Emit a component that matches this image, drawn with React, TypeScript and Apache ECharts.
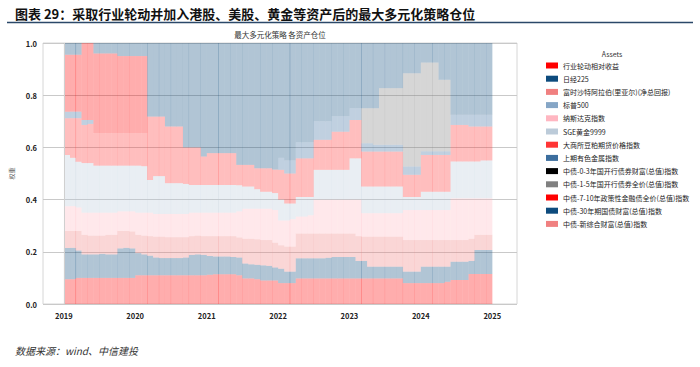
import React, { useEffect, useRef } from "react";
import * as echarts from "echarts";

// ---- categories: monthly positions, Jan 2019 .. Dec 2024 ----
const startYear = 2019;
const monthCount = 72;
const months: string[] = [];
for (let i = 0; i < monthCount; i++) {
  const y = startYear + Math.floor(i / 12);
  const m = (i % 12) + 1;
  months.push(`${y}-${m < 10 ? "0" + m : m}`);
}

const firstYear = 2019;
const lastYear = 2025;

// ---- weights (bottom to top of stack) ----
const industryRotation = [
  0.095, 0.095, 0.1, 0.1, 0.1, 0.1, 0.1, 0.1, 0.1, 0.1, 0.1, 0.1,
  0.11, 0.11, 0.11, 0.11, 0.11, 0.11, 0.11, 0.11, 0.11, 0.11, 0.11, 0.11,
  0.112, 0.114, 0.114, 0.114, 0.114, 0.11, 0.098, 0.098, 0.095, 0.09, 0.09, 0.09,
  0.08, 0.08, 0.08, 0.098, 0.098, 0.098, 0.098, 0.098, 0.098, 0.098, 0.098, 0.098,
  0.098, 0.098, 0.098, 0.098, 0.098, 0.098, 0.098, 0.098, 0.098, 0.08, 0.08, 0.08,
  0.08, 0.08, 0.08, 0.08, 0.085, 0.092, 0.092, 0.092, 0.115, 0.115, 0.115, 0.115,
];
const nikkei225 = [
  0.12, 0.12, 0.105, 0.09, 0.09, 0.09, 0.092, 0.09, 0.09, 0.113, 0.115, 0.113,
  0.085, 0.08, 0.075, 0.068, 0.066, 0.066, 0.066, 0.066, 0.068, 0.078, 0.08, 0.078,
  0.072, 0.068, 0.068, 0.068, 0.066, 0.068, 0.057, 0.054, 0.055, 0.058, 0.056, 0.05,
  0.055, 0.044, 0.044, 0.077, 0.077, 0.077, 0.077, 0.077, 0.079, 0.082, 0.082, 0.082,
  0.082, 0.067, 0.067, 0.045, 0.045, 0.045, 0.045, 0.045, 0.045, 0.044, 0.044, 0.044,
  0.063, 0.063, 0.063, 0.063, 0.058, 0.07, 0.07, 0.07, 0.05, 0.092, 0.092, 0.092,
];
const ftseSaudi = [
  0.065, 0.065, 0.075, 0.075, 0.072, 0.072, 0.07, 0.075, 0.075, 0.067, 0.065, 0.065,
  0.07, 0.072, 0.075, 0.08, 0.082, 0.08, 0.08, 0.08, 0.078, 0.072, 0.072, 0.072,
  0.076, 0.078, 0.078, 0.078, 0.08, 0.077, 0.095, 0.098, 0.098, 0.097, 0.099, 0.095,
  0.09, 0.096, 0.096, 0.095, 0.095, 0.095, 0.095, 0.095, 0.093, 0.09, 0.09, 0.09,
  0.09, 0.095, 0.093, 0.115, 0.115, 0.115, 0.115, 0.115, 0.115, 0.121, 0.121, 0.121,
  0.102, 0.102, 0.102, 0.102, 0.102, 0.083, 0.083, 0.083, 0.085, 0.058, 0.058, 0.058,
];
const sp500: number[] = [];
const nasdaq = [
  0.095, 0.095, 0.09, 0.085, 0.088, 0.088, 0.088, 0.085, 0.085, 0.075, 0.075, 0.077,
  0.085, 0.088, 0.09, 0.087, 0.087, 0.089, 0.089, 0.089, 0.089, 0.09, 0.088, 0.09,
  0.09, 0.09, 0.09, 0.09, 0.09, 0.1, 0.115, 0.115, 0.117, 0.12, 0.12, 0.125,
  0.095, 0.1, 0.105, 0.065, 0.065, 0.07, 0.13, 0.13, 0.13, 0.13, 0.13, 0.13,
  0.13, 0.14, 0.09, 0.09, 0.09, 0.09, 0.09, 0.09, 0.09, 0.115, 0.115, 0.115,
  0.115, 0.115, 0.115, 0.115, 0.115, 0.16, 0.16, 0.16, 0.155, 0.14, 0.14, 0.14,
];
const sgeGold = [
  0.196, 0.185, 0.175, 0.19, 0.19, 0.18, 0.18, 0.18, 0.18, 0.175, 0.175, 0.175,
  0.18, 0.178, 0.125, 0.145, 0.145, 0.118, 0.118, 0.118, 0.115, 0.106, 0.106, 0.106,
  0.106, 0.106, 0.106, 0.106, 0.106, 0.1, 0.085, 0.085, 0.075, 0.065, 0.065, 0.065,
  0.08, 0.065, 0.06, 0.075, 0.075, 0.07, 0.114, 0.114, 0.114, 0.114, 0.114, 0.114,
  0.158, 0.158, 0.102, 0.102, 0.102, 0.102, 0.102, 0.102, 0.102, 0.05, 0.05, 0.05,
  0.07, 0.07, 0.07, 0.07, 0.07, 0.141, 0.141, 0.141, 0.141, 0.141, 0.145, 0.145,
];
const soybeanMeal = [
  0.141, 0.152, 0.167, 0.146, 0.15, 0.125, 0.125, 0.125, 0.125, 0.125, 0.125, 0.125,
  0.125, 0.127, 0.243, 0.228, 0.228, 0.217, 0.217, 0.217, 0.14, 0.144, 0.144, 0.109,
  0.122, 0.122, 0.122, 0.122, 0.122, 0.078, 0.083, 0.083, 0.08, 0.09, 0.09, 0.09,
  0.114, 0.115, 0.115, 0.148, 0.148, 0.148, 0.115, 0.115, 0.115, 0.146, 0.146, 0.146,
  0.147, 0.147, 0.134, 0.134, 0.134, 0.134, 0.134, 0.134, 0.134, 0.085, 0.085, 0.085,
  0.141, 0.141, 0.141, 0.141, 0.141, 0.14, 0.14, 0.14, 0.134, 0.134, 0.13, 0.13,
];
const nonferrous = [
  0.025, 0.025, 0.025, 0.019, 0.015, 0, 0, 0, 0, 0, 0, 0,
  0, 0, 0, 0, 0, 0, 0, 0, 0, 0, 0, 0,
  0, 0, 0, 0, 0, 0, 0, 0, 0, 0, 0, 0,
  0.046, 0.05, 0.05, 0.062, 0.062, 0.062, 0.071, 0.071, 0.071, 0.06, 0.06, 0.06,
  0.045, 0.045, 0.032, 0.032, 0.026, 0.026, 0.026, 0.026, 0.026, 0.032, 0.032, 0.032,
  0.014, 0.014, 0.014, 0.014, 0.014, 0.039, 0.039, 0.039, 0.045, 0.045, 0.045, 0.045,
];
const cdb0to3: number[] = [];
const cdb1to5 = [
  0, 0, 0, 0, 0, 0, 0, 0, 0, 0, 0, 0,
  0, 0, 0, 0, 0, 0, 0, 0, 0, 0, 0, 0,
  0, 0, 0, 0, 0, 0, 0, 0, 0, 0, 0, 0,
  0, 0, 0, 0, 0, 0, 0, 0, 0, 0, 0, 0,
  0, 0, 0.134, 0.134, 0.14, 0.217, 0.217, 0.217, 0.217, 0.357, 0.357, 0.357,
  0.34, 0.34, 0.34, 0.274, 0.274, 0, 0, 0, 0, 0, 0, 0,
];
const policy7to10 = [
  0.218, 0.218, 0.218, 0.295, 0.295, 0.305, 0.305, 0.305, 0.305, 0.295, 0.295, 0.295,
  0.295, 0.295, 0, 0, 0, 0, 0, 0, 0, 0, 0, 0,
  0, 0, 0, 0, 0, 0, 0, 0, 0, 0, 0, 0,
  0, 0, 0, 0, 0, 0, 0, 0, 0, 0, 0, 0,
  0, 0, 0, 0, 0, 0, 0, 0, 0, 0, 0, 0,
  0, 0, 0, 0, 0, 0, 0, 0, 0, 0, 0, 0,
];
const treasury30 = [
  0.045, 0.045, 0.045, 0, 0, 0.04, 0.04, 0.04, 0.04, 0.05, 0.05, 0.05,
  0.05, 0.05, 0.282, 0.282, 0.282, 0.32, 0.32, 0.32, 0.4, 0.4, 0.4, 0.435,
  0.422, 0.422, 0.422, 0.422, 0.422, 0.467, 0.467, 0.467, 0.48, 0.48, 0.48, 0.485,
  0.44, 0.45, 0.45, 0.38, 0.38, 0.38, 0.3, 0.3, 0.3, 0.28, 0.28, 0.28,
  0.25, 0.25, 0.25, 0.25, 0.25, 0.173, 0.173, 0.173, 0.173, 0.116, 0.116, 0.116,
  0.075, 0.075, 0.075, 0.141, 0.141, 0.275, 0.275, 0.275, 0.275, 0.275, 0.275, 0.275,
];
const compositeWealth: number[] = [];

const seriesNames = [
  "行业轮动相对收益",
  "日经225",
  "富时沙特阿拉伯(里亚尔)(净总回报)",
  "标普500",
  "纳斯达克指数",
  "SGE黄金9999",
  "大商所豆粕期货价格指数",
  "上期有色金属指数",
  "中债-0-3年国开行债券财富(总值)指数",
  "中债-1-5年国开行债券全价(总值)指数",
  "中债-7-10年政策性金融债全价(总值)指数",
  "中债-30年期国债财富(总值)指数",
  "中债-新综合财富(总值)指数",
];
const seriesValues = [
  industryRotation, nikkei225, ftseSaudi, sp500, nasdaq, sgeGold, soybeanMeal,
  nonferrous, cdb0to3, cdb1to5, policy7to10, treasury30, compositeWealth,
];
const seriesColors = [
  "#ff0000", "#0d4b7d", "#f08080", "#86a6c6", "#ffb6c1", "#bccbd9", "#ff3535",
  "#3c6e9e", "#000000", "#808080", "#ff0000", "#0d4b7d", "#f08080",
];

const FONT = "'Noto Sans CJK SC', 'Noto Sans', sans-serif";
const DAY = 86400000;

export default function App() {
  const ref = useRef<HTMLDivElement>(null);

  useEffect(() => {
    if (!ref.current) return;
    const chart = echarts.init(ref.current, undefined, { renderer: "svg" });

    // month label -> mid-month timestamp
    const tOf = (label: string) => {
      const [y, m] = label.split("-").map(Number);
      return new Date(y, m - 1, 17).getTime();
    };
    const yearStart = (y: number) => new Date(y, 0, 1).getTime();

    const series: any[] = seriesNames.map((name, i) => ({
      name,
      type: "bar",
      stack: "w",
      barWidth: 6.1,
      itemStyle: { color: seriesColors[i], opacity: 0.32 },
      emphasis: { disabled: true },
      data: seriesValues[i].map((v, k) => [tOf(months[k]), v]),
    }));
    series[0].markLine = {
      silent: true,
      symbol: "none",
      label: { show: false },
      lineStyle: { color: "#d0d0d0", width: 1, type: "solid" },
      data: [{ xAxis: yearStart(firstYear) }],
    };

    chart.setOption({
      animation: false,
      backgroundColor: "#ffffff",
      textStyle: { fontFamily: FONT },
      grid: {
        left: 43,
        right: 183,
        top: 43,
        bottom: 63,
        show: true,
        borderColor: "#d6d6d6",
        borderWidth: 1,
        backgroundColor: "transparent",
      },
      xAxis: {
        type: "time",
        min: yearStart(firstYear) - 91 * DAY,
        max: yearStart(lastYear) + 111 * DAY,
        splitNumber: 6,
        axisLine: { show: false },
        axisTick: { show: false },
        splitLine: { show: false },
        axisLabel: {
          formatter: "{yyyy}",
          fontSize: 7.5,
          color: "#222",
          fontWeight: "bold",
          margin: 8,
          fontFamily: FONT,
          hideOverlap: false,
        },
      },
      yAxis: {
        type: "value",
        min: 0,
        max: 1,
        interval: 0.2,
        name: "权重",
        nameLocation: "middle",
        nameGap: 17,
        nameTextStyle: { fontSize: 6, color: "#555", fontFamily: FONT },
        axisLine: { show: false },
        axisTick: { show: false },
        splitLine: { lineStyle: { color: "#c9c9c9", width: 1 } },
        axisLabel: {
          formatter: (v: number) => v.toFixed(1),
          fontSize: 7.5,
          color: "#222",
          fontWeight: "bold",
          margin: 6,
          fontFamily: FONT,
        },
      },
      legend: {
        orient: "vertical",
        left: 546,
        top: 61,
        padding: 0,
        itemWidth: 12,
        itemHeight: 6,
        itemGap: 4.2,
        icon: "rect",
        selectedMode: false,
        itemStyle: { opacity: 1 },
        textStyle: { fontSize: 7, lineHeight: 9, color: "#222", fontFamily: FONT },
        data: seriesNames.map((name, i) => ({
          name,
          itemStyle: { color: seriesColors[i], opacity: 1 },
        })),
      },
      graphic: [
        {
          type: "text",
          x: 15,
          y: 13,
          style: {
            text: "图表 29：采取行业轮动并加入港股、美股、黄金等资产后的最大多元化策略仓位",
            fontSize: 13,
            fontWeight: "bold",
            fill: "#111",
            fontFamily: FONT,
            verticalAlign: "middle",
          },
        },
        {
          type: "line",
          shape: { x1: 7, y1: 22.5, x2: 693, y2: 22.5 },
          style: { stroke: "#2b4869", lineWidth: 1.5 },
        },
        {
          type: "text",
          x: 280,
          y: 34,
          style: {
            text: "最大多元化策略 各资产仓位",
            fontSize: 7.5,
            fill: "#333",
            fontFamily: FONT,
            align: "center",
            verticalAlign: "middle",
          },
        },
        {
          type: "text",
          x: 612,
          y: 54,
          style: {
            text: "Assets",
            fontSize: 7,
            fill: "#333",
            fontFamily: FONT,
            align: "center",
            verticalAlign: "middle",
          },
        },
        {
          type: "text",
          x: 15,
          y: 350,
          style: {
            text: "数据来源：wind、中信建投",
            fontSize: 10,
            fontStyle: "italic",
            fill: "#333",
            fontFamily: FONT,
            verticalAlign: "middle",
          },
        },
      ],
      series,
    });

    return () => chart.dispose();
  }, []);

  return <div ref={ref} style={{ width: 700, height: 367, position: "absolute", left: 0, top: 0 }} />;
}
